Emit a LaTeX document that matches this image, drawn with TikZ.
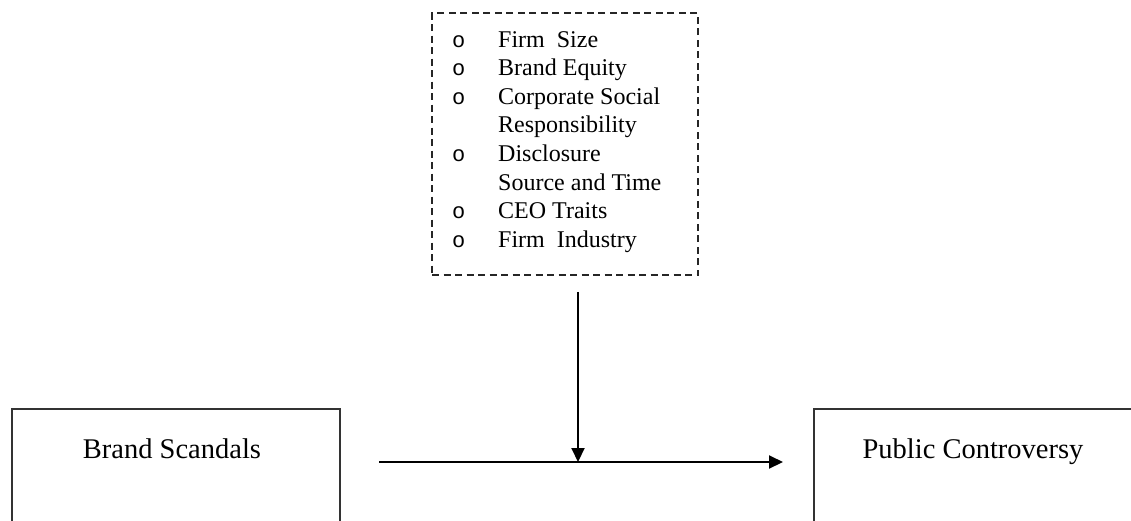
\documentclass[tikz,border=0pt]{standalone}
\usepackage{fontspec}
\setmainfont{Liberation Serif}
\newfontfamily\bulletfont{Liberation Mono}
\usetikzlibrary{arrows.meta,calc}
\newcommand{\listmark}{{\bulletfont\fontsize{22}{28.6}\selectfont o}}
\begin{document}
\begin{tikzpicture}[x=1pt,y=-1pt,
  box/.style={draw=black!80,line width=2pt,minimum width=328pt,minimum height=150pt,anchor=north west,inner sep=0pt},
  modbox/.style={draw=black!85,line width=1.5pt,dash pattern=on 7pt off 4.5pt,minimum width=266pt,minimum height=262pt,inner sep=0pt},
  title/.style={font=\fontsize{28.5}{34}\selectfont,anchor=base,inner sep=0pt},
  conn/.style={line width=2pt,-{Triangle[length=14pt,width=13pt]}}]
\useasboundingbox (0,0) rectangle (1131,520);
\clip (0,0) rectangle (1131,520);

% moderator box with its list
\node[modbox] (mod) at (565,144) {};
\node[anchor=base west,inner sep=0pt,font=\fontsize{24}{28.6}\selectfont] (list) at (452,47)
  {\begin{tabular}[t]{@{}p{46pt}@{}l@{}}
   \listmark & Firm\ \ Size\\
   \listmark & Brand Equity\\
   \listmark & Corporate Social\\
             & Responsibility\\
   \listmark & Disclosure\\
             & Source and Time\\
   \listmark & CEO Traits\\
   \listmark & Firm\ \ Industry
   \end{tabular}};

% main boxes
\node[box] (bs) at (11,408) {};
\node[title] (bst) at (172,458) {Brand Scandals};
\node[box] (pc) at (813,408) {};
\node[title] (pct) at (973,458) {Public Controversy};

% connectors
\coordinate (meet) at (578,462);
\draw[conn] ($(bs.north east)+(38,54)$) -- ($(pc.north west)+(-30,54)$);
\draw[conn] ($(mod.south)+(13,16)$) -- (meet);
\end{tikzpicture}
\end{document}
